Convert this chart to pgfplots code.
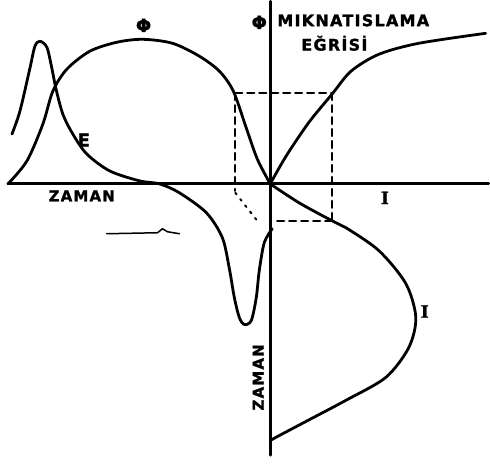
\documentclass[border=0pt]{standalone}
\usepackage{pgfplots}
\pgfplotsset{compat=1.18}
\usepackage{fontspec}
\setmainfont{DejaVu Sans}[FakeBold=1.5]
\newfontfamily\lbl{DejaVu Sans Bold}[LetterSpace=8, FakeBold=1.5]
\newfontfamily\slab{DejaVu Serif Bold}[FakeBold=1.5]
\begin{document}
\begin{tikzpicture}
\begin{axis}[
  scale only axis, width=490pt, height=463pt,
  xmin=0, xmax=490, ymin=0, ymax=463, y dir=reverse,
  hide axis, clip=false,
  every axis plot/.append style={black, line width=2.8pt, line cap=round, line join=round},
]
\path (axis cs:0,0) rectangle (axis cs:490,463);

% axes
\addplot[no marks] coordinates {(8,183) (490,183)};
\addplot[no marks] coordinates {(271,0) (271,455)};

% flux versus time
\addplot[smooth, no marks] coordinates {
  (8,183) (27,160) (43,123) (53,90) (67,68) (90,50) (117,41) (143,38)
  (173,42) (200,55) (220,70) (234,90) (247,127) (258,158) (271,183)};

% induced emf
\addplot[smooth, no marks] coordinates {
  (12,133) (20,110) (30,67) (35,45) (40,40) (47,46) (52,67) (56,87)
  (63,113) (73,133) (87,153) (110,170) (140,180) (160,183) (180,192)
  (207,212) (223,237) (230,268) (235,297) (240,317) (245,324) (252,320)
  (257,297) (260,270) (265,242) (273,228)};

% magnetisation curve
\addplot[smooth, no marks] coordinates {
  (271,183) (287,155) (310,121) (333,93) (352,70) (380,53) (420,42) (487,32)};

% current versus time
\addplot[smooth, no marks] coordinates {
  (271,183) (300,202) (333,220) (347,227) (380,250) (407,283) (417,317)
  (410,347) (387,377) (347,400) (313,418) (277,437) (272,440)};

% construction lines
\addplot[no marks, line width=2.2pt, dash pattern=on 7pt off 5pt] coordinates {(236,92) (333,92)};
\addplot[no marks, line width=2.2pt, dash pattern=on 7pt off 5pt] coordinates {(236,92) (236,190)};
\addplot[no marks, line width=2.2pt, dash pattern=on 7pt off 5pt] coordinates {(333,92) (333,220)};
\addplot[no marks, line width=2.2pt, dash pattern=on 7pt off 5pt] coordinates {(333,220) (276,220)};
\addplot[no marks, line width=2pt, dash pattern=on 2pt off 6pt] coordinates {(236,192) (258,220)};

% stray pen stroke
\addplot[no marks, line width=1.5pt] coordinates {(107,233) (158,232) (163,228) (168,231) (180,233)};

% labels
\node[font=\lbl\fontsize{18}{18}\selectfont] at (axis cs:144,24) {Φ};
\node[font=\lbl\fontsize{18}{18}\selectfont] at (axis cs:260,21) {Φ};
\node[font=\lbl\fontsize{16}{16}\selectfont, anchor=west, inner sep=0pt] at (axis cs:278,19) {MIKNATISLAMA};
\node[font=\lbl\fontsize{16}{16}\selectfont, anchor=west, inner sep=0pt] at (axis cs:302,42) {EĞRİSİ};
\node[font=\lbl\fontsize{18}{18}\selectfont] at (axis cs:84,139) {E};
\node[font=\lbl\fontsize{15}{15}\selectfont] at (axis cs:82,195) {ZAMAN};
\node[font=\slab\fontsize{17}{17}\selectfont] at (axis cs:386,197) {I};
\node[font=\slab\fontsize{17}{17}\selectfont] at (axis cs:426,311) {I};
\node[font=\lbl\fontsize{15}{15}\selectfont, rotate=90] at (axis cs:259,377) {ZAMAN};
\end{axis}
\end{tikzpicture}
\end{document}
